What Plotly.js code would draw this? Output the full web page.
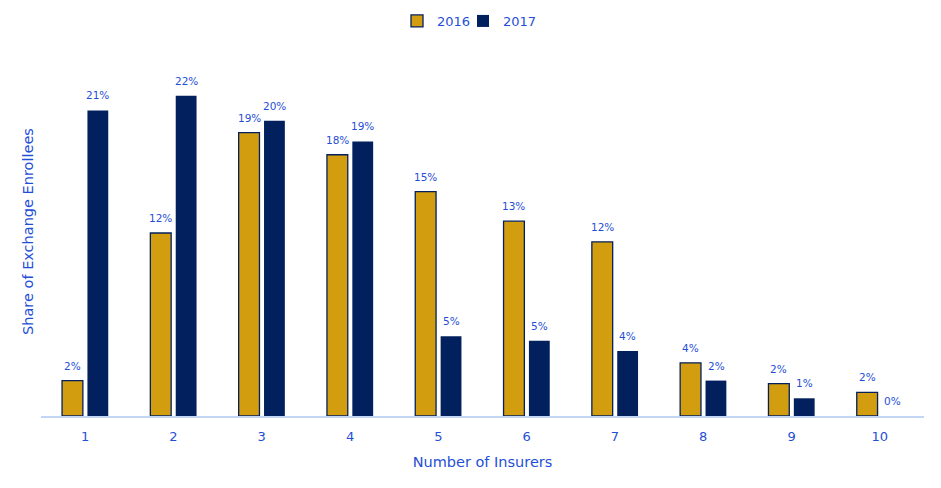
<!DOCTYPE html>
<html>
<head>
<meta charset="utf-8">
<script src="https://cdn.plot.ly/plotly-3.0.1.min.js"></script>
<style>html,body{margin:0;padding:0;background:#fff;}#chart{width:941px;height:488px;}</style>
</head>
<body>
<div id="chart"></div>
<script>
const categories = [1, 2, 3, 4, 5, 6, 7, 8, 9, 10];
const tickLabels = ['1','2','3','4','5','6','7','8','9','10'];
const values2016 = [2.4, 12.4, 19.2, 17.7, 15.2, 13.2, 11.8, 3.6, 2.2, 1.6];
const values2017 = [20.7, 21.7, 20.0, 18.6, 5.4, 5.1, 4.4, 2.4, 1.2, 0.0];
const seriesNames = ['2016', '2017'];

const textBlue = '#1f4fd6';
const gold = '#d29d0e';
const navy = '#03205e';

const traces = [
  {
    type: 'bar', name: seriesNames[0], x: categories, y: values2016, legend: 'legend',
    marker: {color: gold, line: {color: navy, width: 1.3}}
  },
  {
    type: 'bar', name: seriesNames[1], x: categories, y: values2017, legend: 'legend2',
    marker: {color: navy, line: {color: navy, width: 0}}
  }
];

function labels(vals, shift) {
  return vals.map((v, i) => ({
    x: categories[i], y: v, xref: 'x', yref: 'y',
    text: Math.round(v) + '%', showarrow: false,
    yanchor: 'bottom', xanchor: 'center', yshift: 7, xshift: shift,
    font: {size: 10.5, color: textBlue, family: 'DejaVu Sans'}
  }));
}

const legendBase = {orientation: 'h', xanchor: 'left', xref: 'container',
  y: 0.957, yanchor: 'middle', yref: 'container',
  font: {size: 13, color: textBlue}, itemwidth: 30, bgcolor: 'rgba(0,0,0,0)'};

const layout = {
  width: 941, height: 488,
  margin: {l: 41, r: 17, t: 47, b: 72},
  paper_bgcolor: '#ffffff', plot_bgcolor: '#ffffff',
  font: {family: 'DejaVu Sans', size: 13, color: textBlue},
  barmode: 'group', bargap: 0.425, bargroupgap: 0.18,
  showlegend: true,
  legend: Object.assign({}, legendBase, {x: 397 / 941}),
  legend2: Object.assign({}, legendBase, {x: 463 / 941}),
  xaxis: {
    type: 'linear', range: [0.5, 10.5], tickvals: categories, ticktext: tickLabels,
    showgrid: false, zeroline: false,
    showline: true, linecolor: '#c5d5f5', linewidth: 2,
    ticks: 'outside', ticklen: 7, tickcolor: 'rgba(0,0,0,0)',
    tickfont: {size: 13, color: textBlue},
    title: {text: 'Number of Insurers', font: {size: 14.5, color: textBlue}, standoff: 14}
  },
  yaxis: {
    range: [0, 25], showgrid: false, zeroline: false, showline: false,
    showticklabels: false, ticks: '',
    title: {text: 'Share of Exchange Enrollees', font: {size: 14.5, color: textBlue}, standoff: 2}
  },
  annotations: labels(values2016, -12.75).concat(labels(values2017, 12.75))
};

Plotly.newPlot('chart', traces, layout, {displayModeBar: false, staticPlot: true});
</script>
</body>
</html>
